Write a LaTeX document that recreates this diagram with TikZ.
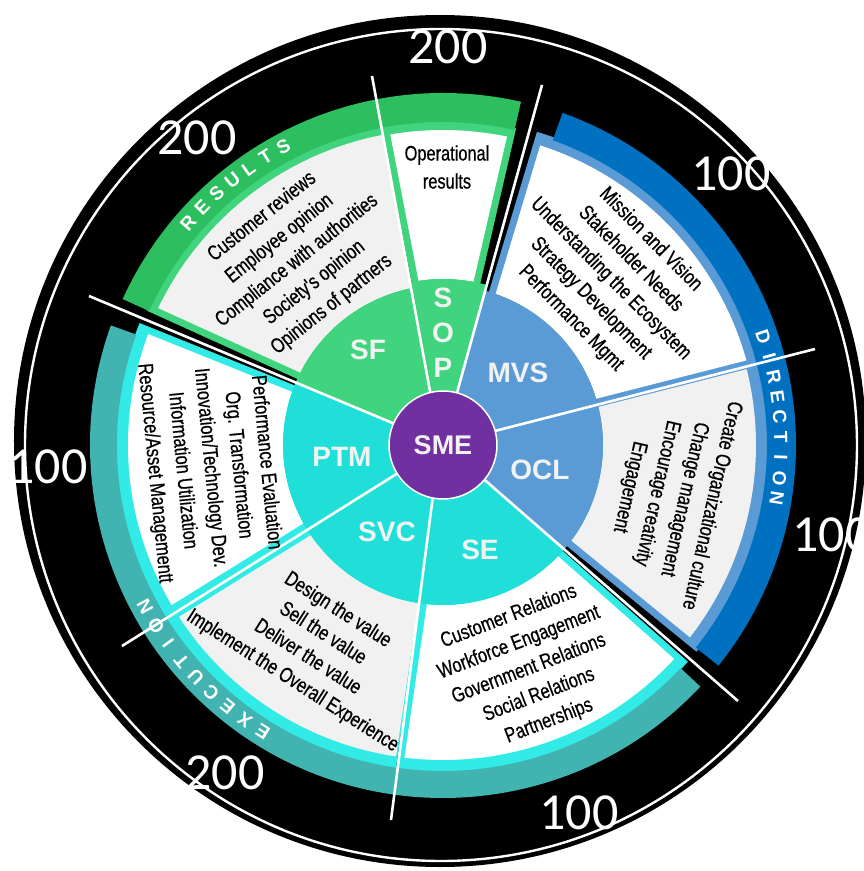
\documentclass[tikz,border=0pt]{standalone}
\usepackage{fontspec}
\setmainfont{Liberation Sans}
\newfontfamily\condfont[FakeStretch=0.78, FakeBold=0.6]{Liberation Sans}
\newfontfamily\numfont{Carlito}

\definecolor{resultsband}{HTML}{2DBE60}
\definecolor{resultsrim}{HTML}{40D47E}
\definecolor{directionband}{HTML}{0070C0}
\definecolor{directionrim}{HTML}{5B9BD5}
\definecolor{executionband}{HTML}{41B3B0}
\definecolor{executionrim}{HTML}{33EBE6}
\definecolor{executioncore}{HTML}{20DFD9}
\definecolor{panelgrey}{HTML}{F1F1F1}
\definecolor{smepurple}{HTML}{7030A0}
\definecolor{labelgrey}{HTML}{F2F2F2}

\newcommand{\ringsector}[5]{\fill[#1] (#2:#4) arc[start angle=#2, end angle=#3, radius=#4] -- (#3:#5) arc[start angle=#3, end angle=#2, radius=#5] -- cycle;}
\newcommand{\textpanel}[7]{\fill[#1] ({#2+asin(#6/#4)}:#4) -- ({#2+asin(#6/#5)}:#5) arc[start angle={#2+asin(#6/#5)}, end angle={#3-asin(#7/#5)}, radius=#5] -- ({#3-asin(#7/#4)}:#4) arc[start angle={#3-asin(#7/#4)}, end angle={#2+asin(#6/#4)}, radius=#4] -- cycle;}

\begin{document}
\begin{tikzpicture}[
    x=1pt, y=1pt,
    items/.style={font=\condfont\fontsize{21}{28}\selectfont, align=center, text=black},
    code/.style={font=\bfseries\fontsize{28}{28}\selectfont, text=labelgrey},
    bandletter/.style={font=\bfseries\fontsize{19}{19}\selectfont, text=white, inner sep=0pt},
    score/.style={font=\numfont\fontsize{52}{52}\selectfont, text=white},
    separator/.style={draw=white, line width=2.6pt}
]
\useasboundingbox (-443,-426) rectangle (421,445);
\fill[black] (-3,4) circle[radius=426];
\draw[white, line width=2.4pt] (-2,0) circle[radius=416];

\ringsector{resultsrim}{100.9}{155.6}{40}{325}
\ringsector{resultsrim}{77}{100.9}{40}{325}
\ringsector{directionrim}{14.3}{73.3}{40}{327}
\ringsector{directionrim}{-39.2}{14.3}{40}{327}
\ringsector{executionrim}{-98.3}{-41.5}{40}{327}
\ringsector{executionrim}{-148.2}{-98.3}{40}{327}
\ringsector{executionrim}{-201.9}{-148.2}{40}{327}

\ringsector{resultsband}{77.2}{155.5}{323}{352}
\ringsector{directionband}{-38.7}{70.2}{324}{353}
\ringsector{executionband}{160.2}{316.8}{326}{353}

\textpanel{panelgrey}{100.9}{155.6}{160}{316}{1.5}{7}
\textpanel{white}{77}{100.9}{166}{315}{7}{7}
\textpanel{white}{14.3}{73.3}{160}{315}{7}{7}
\textpanel{panelgrey}{-39.2}{14.3}{160}{313}{7}{1.5}
\textpanel{white}{-98.3}{-41.5}{160}{315}{7}{7}
\textpanel{panelgrey}{-148.2}{-98.3}{160}{315}{7}{1.5}
\textpanel{white}{-201.9}{-148.2}{160}{315}{7}{7}

\ringsector{resultsrim}{100.9}{157.2}{40}{160}
\ringsector{resultsrim}{74.6}{100.9}{40}{166}
\ringsector{directionrim}{14.3}{74.6}{40}{160}
\ringsector{directionrim}{-40.5}{14.3}{40}{160}
\ringsector{executioncore}{-98.3}{-40.5}{40}{160}
\ringsector{executioncore}{-148.2}{-98.3}{40}{160}
\ringsector{executioncore}{-202.8}{-148.2}{40}{160}

\coordinate (sf-sop in) at (-11,43);
\coordinate (sf-sop out) at (-71,369);
\coordinate (sop-mvs in) at (12,45);
\coordinate (sop-mvs out) at (99,360);
\coordinate (mvs-ocl in) at (44,12);
\coordinate (mvs-ocl out) at (372,96);
\coordinate (ocl-se in) at (36,-30);
\coordinate (ocl-se out) at (295,-256);
\coordinate (se-svc in) at (-9,-43);
\coordinate (se-svc out) at (-52,-375);
\coordinate (svc-ptm in) at (-37,-23);
\coordinate (svc-ptm out) at (-321,-201);
\coordinate (ptm-sf in) at (-41,18);
\coordinate (ptm-sf out) at (-354,149);

\draw[separator] (sf-sop in) -- (sf-sop out);
\draw[separator] (sop-mvs in) -- (sop-mvs out);
\draw[separator] (mvs-ocl in) -- (mvs-ocl out);
\draw[separator] (ocl-se in) -- (ocl-se out);
\draw[separator] (se-svc in) -- (se-svc out);
\draw[separator] (svc-ptm in) -- (svc-ptm out);
\draw[separator] (ptm-sf in) -- (ptm-sf out);

\node[circle, fill=smepurple, draw=white, line width=1.5pt, minimum size=108pt, inner sep=0pt, font=\bfseries\fontsize{27}{27}\selectfont, text=labelgrey] (sme) at (0,0) {SME};

\node[code] (sf) at (-75,95) {SF};
\node[code, font=\bfseries\fontsize{28}{35}\selectfont, align=center] (sop) at (0,112) {S\\O\\P};
\node[code] (mvs) at (75,72) {MVS};
\node[code] (ocl) at (97,-25) {OCL};
\node[code] (se) at (37,-105) {SE};
\node[code] (svc) at (-56,-87) {SVC};
\node[code] (ptm) at (-101,-12) {PTM};

\node[items, rotate=38.4] (sf text) at (128.4:235) {Customer reviews\\Employee opinion\\Compliance with authorities\\Society's opinion\\Opinions of partners};
\node[items] (sop text) at (4,278) {Operational\\results};
\node[items, rotate=-45.3] (mvs text) at (44.7:236) {Mission and Vision\\Stakeholder Needs\\Understanding the Ecosystem\\Strategy Development\\Performance Mgmt};
\node[items, rotate=-102.7] (ocl text) at (-12.7:233) {Create Organizational culture\\Change management\\Encourage creativity\\Engagement};
\node[items, rotate=21] (se text) at (-69:240) {Customer Relations\\Workforce Engagement\\Government Relations\\Social Relations\\Partnerships};
\node[items, rotate=-32.5] (svc text) at (237.5:238) {Design the value\\Sell the value\\Deliver the value\\Implement the Overall Experience};
\node[items, rotate=-84.4] (ptm text) at (185.6:234) {Performance Evaluation\\Org. Transformation\\Innovation/Technology Dev.\\Information Utilization\\Resource/Asset Managementt};

\foreach \ch [count=\i from 0] in {R,E,S,U,L,T,S}
    \node[bandletter, rotate={48.9-3.45*\i}] (results-\i) at ({138.9-3.45*\i}:338) {\ch};
\foreach \ch [count=\i from 0] in {D,I,R,E,C,T,I,O,N}
    \node[bandletter, rotate={-71.4-3.46*\i}] (direction-\i) at ({18.6-3.46*\i}:338) {\ch};
\foreach \ch [count=\i from 0] in {E,X,E,C,U,T,I,O,N}
    \node[bandletter, rotate={147.9-3.675*\i}] (execution-\i) at ({237.9-3.675*\i}:339) {\ch};

\node[score] (score top) at (5,398) {200};
\node[score] (score upper left) at (-246,307) {200};
\node[score] (score upper right) at (288,271) {100};
\node[score] (score left) at (-395,-22) {100};
\node[score] (score right) at (389,-90) {100};
\node[score] (score lower left) at (-218,-328) {200};
\node[score] (score bottom) at (136,-368) {100};
\end{tikzpicture}
\end{document}
